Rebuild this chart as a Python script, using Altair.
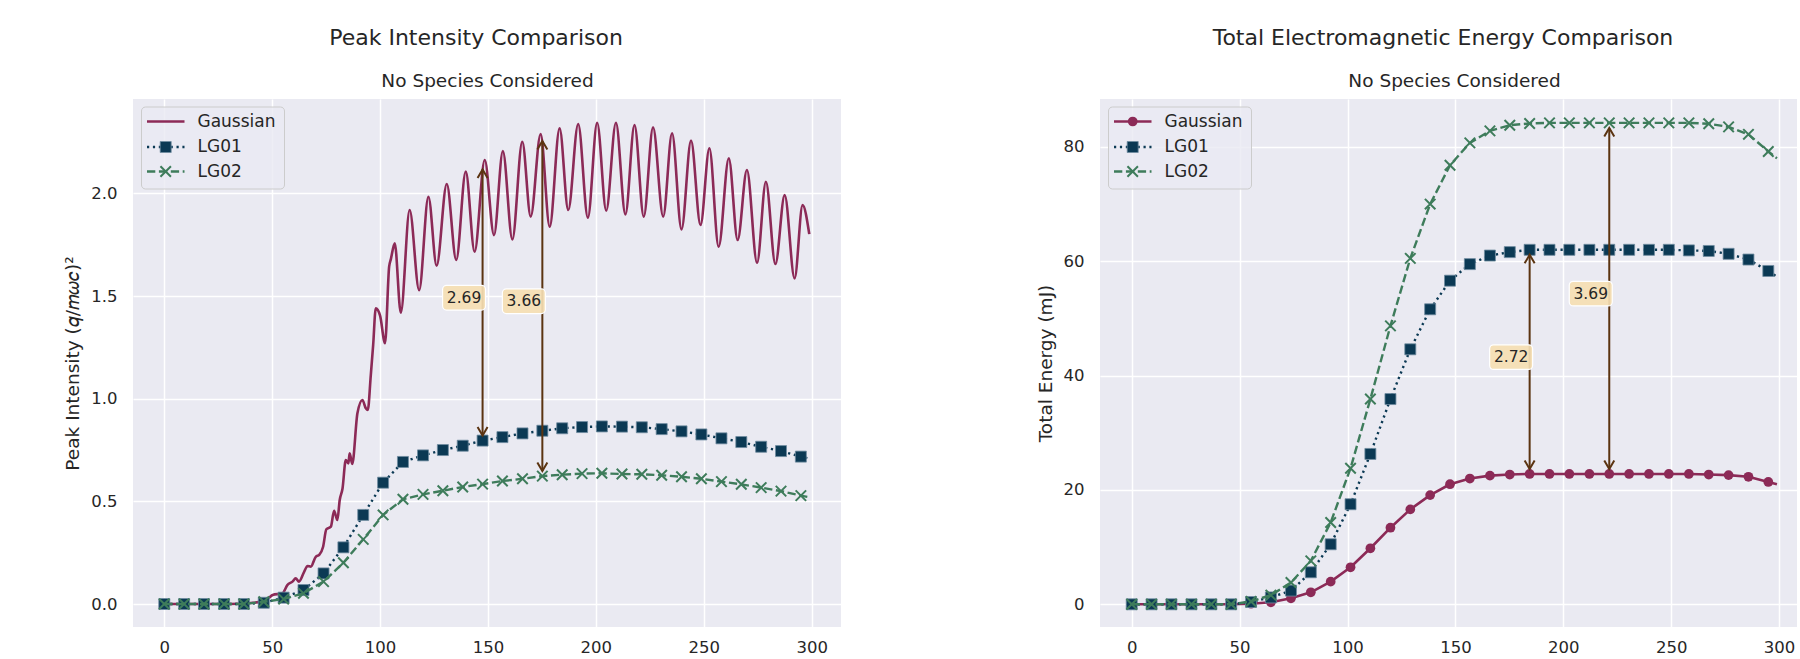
import altair as alt
import pandas as pd

FONT = "DejaVu Sans"
TXT = "#262626"
C_GAUSS = "#8c2a57"
C_LG01 = "#0b3954"
C_LG02 = "#3e7c5b"
C_ARROW = "#5b3411"
BG = "#eaeaf2"

# ---------------- data ----------------
# sample times of the marked points (last entry = final sample, unmarked)
t_samples = [0.0, 9.2, 18.4, 27.7, 36.9, 46.1, 55.3, 64.5, 73.8, 83.0, 92.2,
             101.4, 110.6, 119.9, 129.1, 138.3, 147.5, 156.7, 166.0, 175.2,
             184.4, 193.6, 202.8, 212.1, 221.3, 230.5, 239.7, 248.9, 258.2,
             267.4, 276.6, 285.8, 295.0, 299.0]

# Peak intensity
peak_lg01 = [0, 0, 0, 0, 0, 0.006, 0.031, 0.068, 0.149, 0.276, 0.434, 0.591,
             0.692, 0.724, 0.750, 0.771, 0.796, 0.813, 0.831, 0.844, 0.856,
             0.862, 0.865, 0.864, 0.861, 0.852, 0.841, 0.826, 0.807, 0.789,
             0.766, 0.745, 0.718, 0.708]
peak_lg02 = [0, 0, 0, 0, 0, 0.011, 0.024, 0.052, 0.109, 0.201, 0.315, 0.434,
             0.510, 0.534, 0.552, 0.570, 0.584, 0.599, 0.610, 0.623, 0.630,
             0.635, 0.637, 0.633, 0.632, 0.627, 0.620, 0.610, 0.596, 0.583,
             0.567, 0.550, 0.528, 0.520]
gauss_t = [0, 10, 20, 30, 40, 45, 48.6, 50.2, 54.8, 57.1, 59.4, 60.9, 62.4,
           64.8, 66.4, 67.9, 70.2, 71.8, 73.6, 75.1, 77.2, 78.7, 80.2, 81.3,
           82.6, 84.1, 85.3, 85.9, 87.1, 89.5, 91.8, 93.4, 94.3, 95.7, 96.8,
           98.0, 100.0, 102.3, 104.2, 105.0, 106.8, 109.6, 113.7, 118.1,
           122.4, 126.2, 130.9, 135.3, 139.7, 143.8, 148.5, 152.8, 156.9,
           161.3, 165.9, 169.8, 174.4, 178.6, 183.2, 187.2, 191.8, 196.3,
           200.6, 204.8, 209.3, 213.7, 217.9, 222.2, 226.5, 231.2, 235.3,
           239.7, 244.1, 248.5, 252.6, 256.9, 261.6, 265.7, 270.0, 274.7,
           278.8, 283.2, 287.5, 292.1, 295.8, 298.9]
gauss_peak = [0, 0, 0, 0, 0.005, 0.012, 0.031, 0.044, 0.052, 0.093, 0.109,
              0.125, 0.109, 0.157, 0.185, 0.182, 0.230, 0.239, 0.279, 0.364,
              0.377, 0.454, 0.409, 0.507, 0.563, 0.701, 0.685, 0.734, 0.682,
              0.929, 0.994, 0.953, 0.945, 1.115, 1.262, 1.44, 1.405, 1.270,
              1.643, 1.68, 1.757, 1.419, 1.919, 1.529, 1.984, 1.648, 2.046,
              1.676, 2.106, 1.716, 2.163, 1.797, 2.206, 1.776, 2.252, 1.887,
              2.289, 1.838, 2.317, 1.919, 2.338, 1.882, 2.344, 1.916, 2.344,
              1.898, 2.333, 1.887, 2.322, 1.887, 2.293, 1.825, 2.257, 1.846,
              2.220, 1.740, 2.171, 1.773, 2.114, 1.662, 2.057, 1.656, 1.992,
              1.586, 1.943, 1.802]

# Total electromagnetic energy (mJ)
energy_gauss = [0, 0, 0, 0, 0, 0, 0.1, 0.35, 1.05, 2.1, 3.96, 6.47, 9.8, 13.4,
                16.6, 19.1, 21.0, 22.0, 22.5, 22.7, 22.8, 22.8, 22.8, 22.8,
                22.8, 22.8, 22.8, 22.8, 22.8, 22.7, 22.6, 22.3, 21.4, 21.0]
energy_lg01 = [0, 0, 0, 0, 0, 0, 0.4, 1.2, 2.4, 5.6, 10.5, 17.5, 26.3, 35.9,
               44.6, 51.6, 56.6, 59.5, 61.0, 61.6, 62.0, 62.0, 62.0, 62.0,
               62.0, 62.0, 62.0, 62.0, 61.9, 61.8, 61.3, 60.3, 58.3, 57.3]
energy_lg02 = [0, 0, 0, 0, 0, 0, 0.5, 1.6, 3.8, 7.6, 14.3, 23.8, 35.9, 48.7,
               60.5, 70.0, 76.8, 80.7, 82.8, 83.8, 84.1, 84.2, 84.2, 84.2,
               84.2, 84.2, 84.2, 84.2, 84.2, 84.05, 83.5, 82.2, 79.2, 78.0]

# ratio annotations
peak_arrow_t = [147.5, 175.2]
peak_arrow_lo = [0.796, 0.623]
peak_arrow_hi = [2.141, 2.280]
peak_arrow_label = ["2.69", "3.66"]
energy_arrow_t = [184.4, 221.3]
energy_arrow_lo = [22.8, 22.8]
energy_arrow_hi = [62.0, 84.2]
energy_arrow_label = ["2.72", "3.69"]

X_TICKS = [0, 50, 100, 150, 200, 250, 300]

# ---------------- styling helpers ----------------
H = 528
W_LEFT = 708
W_RIGHT = 697
DOT = [2.2, 3.7]
DASH = [8.3, 3.6]
XMARK = "M-1,-1L1,1M-1,1L1,-1"
HEAD_UP = "M-1,1.7L0,0L1,1.7"
HEAD_DOWN = "M-1,-1.7L0,0L1,-1.7"
ONE = alt.Data(values=[{"k": 0}])


def xenc(domain):
    return alt.X("t:Q", scale=alt.Scale(domain=domain, nice=False, zero=False),
                 axis=alt.Axis(values=X_TICKS, title=None, format="d",
                               labelFlush=False))


def yenc(field, domain, ticks, fmt, title, title_x):
    return alt.Y(f"{field}:Q",
                 scale=alt.Scale(domain=domain, nice=False, zero=False),
                 axis=alt.Axis(values=ticks, format=fmt, title=title,
                               titleX=title_x, titleY=H / 2, titleAngle=270,
                               titleAlign="center", titleBaseline="middle"))


def series_layers(df, field, X, Y, color, dash, marker, width=2.4,
                  interp="linear"):
    line_kw = dict(color=color, strokeWidth=width, strokeJoin="round",
                   interpolate=interp)
    if dash:
        line_kw["strokeDash"] = dash
    line = alt.Chart(df).mark_line(**line_kw).encode(
        x=X, y=Y(field), order="t:Q")
    out = [line]
    if marker is not None:
        mdf = df.iloc[:-1]
        if marker == "square":
            pt = alt.Chart(mdf).mark_point(shape="square", filled=True,
                                           fill=color, stroke="#6f8ba0",
                                           strokeWidth=0.8, size=121,
                                           opacity=1)
        elif marker == "x":
            pt = alt.Chart(mdf).mark_point(shape=XMARK, filled=False,
                                           stroke=color, strokeWidth=2,
                                           size=110, opacity=1)
        else:
            pt = alt.Chart(mdf).mark_point(shape="circle", filled=True,
                                           fill=color, size=95, opacity=1)
        out.append(pt.encode(x=X, y=Y(field)))
    return out


def arrow_layers(df, X, Y):
    base = alt.Chart(df).transform_calculate(mid="(datum.lo + datum.hi) / 2")
    shaft = base.mark_rule(color=C_ARROW, strokeWidth=2, yOffset=-5,
                           y2Offset=5).encode(x=X, y=Y("lo"), y2="hi:Q")
    up = base.mark_point(shape=HEAD_UP, filled=False, stroke=C_ARROW,
                         strokeWidth=2, size=100, opacity=1,
                         yOffset=5).encode(x=X, y=Y("hi"))
    down = base.mark_point(shape=HEAD_DOWN, filled=False, stroke=C_ARROW,
                           strokeWidth=2, size=100, opacity=1,
                           yOffset=-5).encode(x=X, y=Y("lo"))
    box = base.mark_rect(fill="#f5deb3", fillOpacity=0.92, stroke="white",
                         strokeWidth=1.2, cornerRadius=4,
                         xOffset=-18.5 - 21.5, x2Offset=-18.5 + 21.5,
                         yOffset=-4.8 - 12.3, y2Offset=-4.8 + 12.3).encode(
        x=X, x2="t:Q", y=Y("mid"), y2="mid:Q")
    txt = base.mark_text(dx=-18.5, dy=-4.8, fontSize=15.5, font=FONT,
                         color=TXT, align="center", baseline="middle").encode(
        x=X, y=Y("mid"), text="label:N")
    return [shaft, up, down, box, txt]


def legend_layers(gauss_marker):
    base = alt.Chart(ONE)
    out = [base.mark_rect(fill=BG, fillOpacity=0.8, stroke="#cccccc",
                          strokeWidth=1, cornerRadius=4).encode(
        x=alt.value(8.5), x2=alt.value(151.5), y=alt.value(8),
        y2=alt.value(90))]
    rows = [("Gaussian", 22.5, C_GAUSS, None, gauss_marker),
            ("LG01", 48.0, C_LG01, DOT, "square"),
            ("LG02", 72.5, C_LG02, DASH, "x")]
    for name, yy, color, dash, marker in rows:
        kw = dict(color=color, strokeWidth=2.4)
        if dash:
            kw["strokeDash"] = dash
        out.append(base.mark_rule(**kw).encode(
            x=alt.value(14), x2=alt.value(51.5), y=alt.value(yy)))
        if marker == "square":
            out.append(base.mark_point(shape="square", filled=True,
                                       fill=color, stroke="#6f8ba0",
                                       strokeWidth=0.8, size=121,
                                       opacity=1).encode(
                x=alt.value(32.7), y=alt.value(yy)))
        elif marker == "x":
            out.append(base.mark_point(shape=XMARK, filled=False,
                                       stroke=color, strokeWidth=2,
                                       size=110, opacity=1).encode(
                x=alt.value(32.7), y=alt.value(yy)))
        elif marker == "circle":
            out.append(base.mark_point(shape="circle", filled=True,
                                       fill=color, size=95,
                                       opacity=1).encode(
                x=alt.value(32.7), y=alt.value(yy)))
        out.append(base.mark_text(align="left", baseline="middle",
                                  fontSize=17, font=FONT, color=TXT).encode(
            x=alt.value(64.5), y=alt.value(yy), text=alt.value(name)))
    return out


def title_layers(main, sub):
    base = alt.Chart(ONE)
    return [
        base.mark_text(fontSize=22, font=FONT, color=TXT, align="center",
                       baseline="alphabetic").encode(
            x=alt.value(343), y=alt.value(-54.3), text=alt.value(main)),
        base.mark_text(fontSize=18.5, font=FONT, color=TXT, align="center",
                       baseline="alphabetic").encode(
            x=alt.value(354.5), y=alt.value(-12), text=alt.value(sub)),
    ]


# ---------------- left panel ----------------
lx = xenc([-14.5, 313.6])


def ly(field):
    return yenc(field, [-0.112, 2.460], [0, 0.5, 1.0, 1.5, 2.0], ".1f",
                "Peak Intensity (𝑞/𝑚𝜔𝑐)²", -61)


df_gp = pd.DataFrame({"t": gauss_t, "v": gauss_peak})
df_p1 = pd.DataFrame({"t": t_samples, "v": peak_lg01})
df_p2 = pd.DataFrame({"t": t_samples, "v": peak_lg02})
df_pa = pd.DataFrame({"t": peak_arrow_t, "lo": peak_arrow_lo,
                      "hi": peak_arrow_hi, "label": peak_arrow_label})

phantom = alt.Chart(ONE).mark_rect(opacity=0).encode(
    x=alt.value(-133), x2=alt.value(0), y=alt.value(-99), y2=alt.value(557))

left_layers = (
    [phantom]
    + series_layers(df_gp, "v", lx, ly, C_GAUSS, None, None, width=2.6,
                    interp="monotone")
    + series_layers(df_p1, "v", lx, ly, C_LG01, DOT, "square")
    + series_layers(df_p2, "v", lx, ly, C_LG02, DASH, "x")
    + arrow_layers(df_pa, lx, ly)
    + legend_layers(None)
    + title_layers("Peak Intensity Comparison", "No Species Considered")
)
left = alt.layer(*left_layers).properties(width=W_LEFT, height=H)

# ---------------- right panel ----------------
rx = xenc([-14.7, 308.3])


def ry(field):
    return yenc(field, [-3.97, 88.38], [0, 20, 40, 60, 80], "d",
                "Total Energy (mJ)", -55)


df_eg = pd.DataFrame({"t": t_samples, "v": energy_gauss})
df_e1 = pd.DataFrame({"t": t_samples, "v": energy_lg01})
df_e2 = pd.DataFrame({"t": t_samples, "v": energy_lg02})
df_ea = pd.DataFrame({"t": energy_arrow_t, "lo": energy_arrow_lo,
                      "hi": energy_arrow_hi, "label": energy_arrow_label})

right_layers = (
    series_layers(df_eg, "v", rx, ry, C_GAUSS, None, "circle", width=2.6)
    + series_layers(df_e1, "v", rx, ry, C_LG01, DOT, "square")
    + series_layers(df_e2, "v", rx, ry, C_LG02, DASH, "x")
    + arrow_layers(df_ea, rx, ry)
    + legend_layers("circle")
    + title_layers("Total Electromagnetic Energy Comparison",
                   "No Species Considered")
)
right = alt.layer(*right_layers).properties(width=W_RIGHT, height=H)

chart = (
    alt.hconcat(left, right, spacing=259, bounds="flush")
    .properties(padding=0, background="white")
    .configure_view(fill=BG, strokeWidth=0)
    .configure_axis(grid=True, gridColor="white", gridWidth=1.5,
                    domain=False, ticks=False, tickSize=0,
                    labelFont=FONT, labelFontSize=16.5, labelColor=TXT,
                    titleFont=FONT, titleFontSize=18.5, titleColor=TXT,
                    titleFontWeight="normal")
    .configure_axisX(labelPadding=12.5)
    .configure_axisY(labelPadding=16)
)

chart.save("out.html", embed_options={"renderer": "svg", "actions": False})
